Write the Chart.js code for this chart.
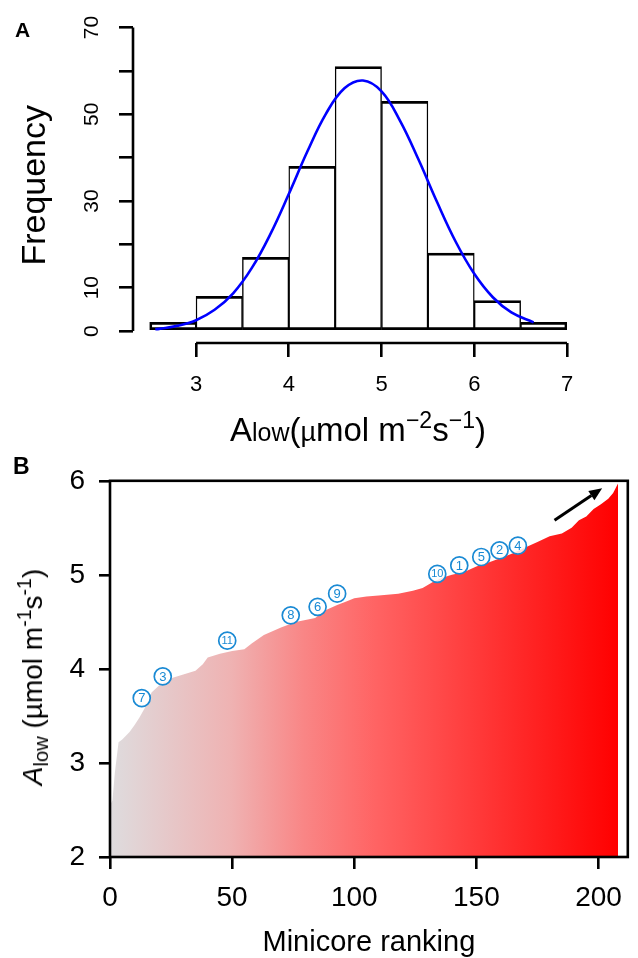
<!DOCTYPE html>
<html>
<head>
<meta charset="utf-8">
<script src="https://cdn.jsdelivr.net/npm/chart.js@4/dist/chart.umd.min.js"></script>
<style>
  html, body { margin: 0; padding: 0; background: #fff; }
  body { width: 638px; height: 958px; position: relative; overflow: hidden; font-family: "Liberation Sans", Arial, sans-serif; }
  canvas { position: absolute; left: 0; }
  #chartA { top: 0; }
  #chartB { top: 450px; }
  .panel { position: absolute; font-weight: bold; line-height: 1; }
  .title { position: absolute; white-space: nowrap; line-height: 1; color: #000; }
  .sup { position: relative; top: -0.55em; font-size: 0.7em; }
</style>
</head>
<body>
<canvas id="chartA" width="638" height="450"></canvas>
<canvas id="chartB" width="638" height="508"></canvas>

<div class="panel" style="left:15px; top:19px; font-size:21px;">A</div>
<div class="panel" style="left:13px; top:455px; font-size:23px;">B</div>

<div class="title" style="left:158px; width:400px; top:413px; text-align:center; font-size:33px;">A<span style="font-size:25px">low</span>(<span style="font-size:27px">µ</span>mol m<span class="sup">−2</span>s<span class="sup">−1</span>)</div>
<div class="title" style="left:33px; top:677px; font-size:28px; transform:translate(-50%,-50%) rotate(-90deg);"><i>A</i><span style="position:relative; top:0.3em; font-size:0.72em">low</span> (µmol m<span class="sup">-1</span>s<span class="sup">-1</span>)</div>

<script>
// --- DATA: panel A (histogram of Alow) ---
const binMid = [2.75, 3.25, 3.75, 4.25, 4.75, 5.25, 5.75, 6.25, 6.75];
const binCounts = [2, 8, 17, 38, 61, 53, 18, 7, 2];
// fitted curve
const curveX = [2.56, 2.6, 2.8, 3.0, 3.2, 3.4, 3.6, 3.8, 4.0, 4.2, 4.4, 4.6, 4.8, 5.0, 5.2, 5.4, 5.6, 5.8, 6.0, 6.2, 6.4, 6.64];
const curveY = [0.4, 0.5, 1.2, 2.5, 4.9, 8.7, 14.5, 22.3, 31.6, 41.4, 50.1, 56.0, 57.8, 55.3, 48.5, 39.5, 29.7, 20.6, 13.2, 7.8, 4.3, 2.0];
const xTicksA = [3, 4, 5, 6, 7];
const yTicksA = [0, 10, 20, 30, 40, 50, 60, 70];
const yTickLabelsA = ['0', '10', '', '30', '', '50', '', '70'];

// --- DATA: panel B (ranked Alow) ---
const rank = [0, 1, 2, 3.5, 5, 8, 10, 12, 15, 17, 20, 25, 30, 35, 38, 40, 45, 50, 55, 58, 63, 70, 76, 84, 88, 93, 97, 100, 105, 110, 118, 124, 128, 132, 136, 140, 145, 150, 155, 160, 165, 170, 175, 180, 185, 189, 192, 195, 198, 201, 204, 206, 208];
const alow = [2.55, 2.6, 2.9, 3.22, 3.25, 3.33, 3.4, 3.48, 3.62, 3.75, 3.82, 3.9, 3.94, 3.98, 4.05, 4.12, 4.16, 4.19, 4.21, 4.27, 4.36, 4.44, 4.5, 4.54, 4.62, 4.68, 4.72, 4.75, 4.77, 4.78, 4.8, 4.83, 4.86, 4.92, 4.97, 5.0, 5.03, 5.09, 5.13, 5.18, 5.23, 5.29, 5.35, 5.41, 5.44, 5.5, 5.58, 5.62, 5.7, 5.75, 5.81, 5.87, 5.97];
const labelText = ['7', '3', '11', '8', '6', '9', '10', '1', '5', '2', '4'];
const labelRank = [13, 21.6, 48, 74, 85, 93, 134, 143, 152, 159.5, 167];
const labelValue = [3.69, 3.92, 4.3, 4.57, 4.66, 4.8, 5.01, 5.1, 5.19, 5.26, 5.31];
const arrowFrom = [182, 5.58];
const arrowTo = [201.5, 5.92];
const xTicksB = [0, 50, 100, 150, 200];
const yTicksB = [2, 3, 4, 5, 6];

const FONT = '"Liberation Sans", Arial, sans-serif';
const BLUE_LABEL = '#1a8ad4';
Chart.defaults.font.family = FONT;
Chart.defaults.color = '#000';

// R-style axis lines, only across the labelled range
const axisLinesA = {
    id: 'axisLinesA',
    afterDraw(chart) {
        const { ctx, chartArea, scales } = chart;
        ctx.save();
        ctx.strokeStyle = '#000';
        ctx.lineWidth = 2.6;
        ctx.beginPath();
        ctx.moveTo(chartArea.left, scales.y.getPixelForValue(yTicksA[0]));
        ctx.lineTo(chartArea.left, scales.y.getPixelForValue(yTicksA[yTicksA.length - 1]));
        ctx.moveTo(scales.x.getPixelForValue(xTicksA[0]), chartArea.bottom);
        ctx.lineTo(scales.x.getPixelForValue(xTicksA[xTicksA.length - 1]), chartArea.bottom);
        ctx.stroke();
        ctx.restore();
    }
};

new Chart(document.getElementById('chartA'), {
    type: 'bar',
    data: {
        datasets: [
            {
                type: 'line',
                data: curveX.map((x, i) => ({ x: x, y: curveY[i] })),
                borderColor: '#0000ff',
                borderWidth: 2.6,
                pointRadius: 0,
                tension: 0.4,
                fill: false,
                order: 0
            },
            {
                type: 'bar',
                data: binMid.map((x, i) => ({ x: x, y: binCounts[i] })),
                backgroundColor: '#fff',
                borderColor: '#000',
                borderSkipped: false,
                borderWidth: c => ({
                    top: 2.7,
                    bottom: 2.7,
                    left: c.dataIndex === 0 ? 2.7 : 1.4,
                    right: c.dataIndex === binCounts.length - 1 ? 2.7 : 1.4
                }),
                barPercentage: 1,
                categoryPercentage: 1,
                order: 1
            }
        ]
    },
    options: {
        responsive: false,
        animation: false,
        devicePixelRatio: 1,
        layout: { padding: { top: 27, right: 71, left: 0, bottom: 0 } },
        plugins: { legend: { display: false }, tooltip: { enabled: false } },
        scales: {
            x: {
                type: 'linear',
                min: 2.32,
                max: 7,
                offset: false,
                afterFit: s => { s.height = 107; },
                afterBuildTicks: s => { s.ticks = xTicksA.map(v => ({ value: v })); },
                border: { display: false },
                grid: { offset: false, drawOnChartArea: false, color: '#000', lineWidth: 2.6, tickLength: 14 },
                ticks: { font: { size: 22 }, padding: 15, autoSkip: false, maxRotation: 0 }
            },
            y: {
                min: -2.76,
                max: 70,
                afterFit: s => { s.width = 133; },
                afterBuildTicks: s => { s.ticks = yTicksA.map(v => ({ value: v })); },
                border: { display: false },
                grid: { drawOnChartArea: false, color: '#000', lineWidth: 2.6, tickLength: 14 },
                ticks: {
                    font: { size: 21 },
                    autoSkip: false,
                    minRotation: 90,
                    maxRotation: 90,
                    crossAlign: 'center',
                    padding: 15,
                    callback: (v, i) => yTickLabelsA[i]
                },
                title: { display: true, text: 'Frequency', font: { size: 34 }, padding: { top: 15, bottom: 0 } }
            }
        }
    },
    plugins: [axisLinesA]
});

// --- Panel B plugins ---
const frameB = {
    id: 'frameB',
    afterDraw(chart) {
        const { ctx, chartArea } = chart;
        ctx.save();
        ctx.strokeStyle = '#000';
        ctx.lineWidth = 2.6;
        ctx.strokeRect(chartArea.left, chartArea.top, chartArea.right - chartArea.left, chartArea.bottom - chartArea.top);
        ctx.restore();
    }
};

const circleNumbers = {
    id: 'circleNumbers',
    afterDatasetsDraw(chart) {
        const meta = chart.getDatasetMeta(0);
        const ctx = chart.ctx;
        ctx.save();
        ctx.fillStyle = BLUE_LABEL;
        ctx.textAlign = 'center';
        ctx.textBaseline = 'middle';
        meta.data.forEach((pt, i) => {
            const t = labelText[i];
            ctx.font = (t.length > 1 ? '11px ' : '13px ') + FONT;
            ctx.fillText(t, pt.x, pt.y + 0.5);
        });
        ctx.restore();
    }
};

const arrowB = {
    id: 'arrowB',
    afterDatasetsDraw(chart) {
        const { ctx, scales } = chart;
        const x1 = scales.x.getPixelForValue(arrowFrom[0]);
        const y1 = scales.y.getPixelForValue(arrowFrom[1]);
        const x2 = scales.x.getPixelForValue(arrowTo[0]);
        const y2 = scales.y.getPixelForValue(arrowTo[1]);
        const a = Math.atan2(y2 - y1, x2 - x1);
        const head = 13, half = 5.5;
        const bx = x2 - head * Math.cos(a), by = y2 - head * Math.sin(a);
        ctx.save();
        ctx.strokeStyle = '#000';
        ctx.fillStyle = '#000';
        ctx.lineWidth = 3;
        ctx.beginPath();
        ctx.moveTo(x1, y1);
        ctx.lineTo(bx, by);
        ctx.stroke();
        ctx.beginPath();
        ctx.moveTo(x2, y2);
        ctx.lineTo(bx + half * Math.sin(a), by - half * Math.cos(a));
        ctx.lineTo(bx - half * Math.sin(a), by + half * Math.cos(a));
        ctx.closePath();
        ctx.fill();
        ctx.restore();
    }
};

function areaGradient(c) {
    const chart = c.chart;
    const { ctx, chartArea, scales } = chart;
    if (!chartArea || !scales.x) return '#f08080';
    const g = ctx.createLinearGradient(scales.x.getPixelForValue(rank[0]), 0, scales.x.getPixelForValue(rank[rank.length - 1]), 0);
    g.addColorStop(0, '#dedcde');
    g.addColorStop(0.24, '#efb2b2');
    g.addColorStop(0.38, '#f98686');
    g.addColorStop(0.52, '#ff6464');
    g.addColorStop(0.74, '#ff3636');
    g.addColorStop(1, '#ff0000');
    return g;
}

new Chart(document.getElementById('chartB'), {
    type: 'line',
    data: {
        datasets: [
            {
                type: 'scatter',
                data: labelRank.map((x, i) => ({ x: x, y: labelValue[i] })),
                showLine: false,
                pointRadius: 8.5,
                pointBorderWidth: 1.7,
                pointBorderColor: BLUE_LABEL,
                pointBackgroundColor: 'rgba(255,255,255,0.85)',
                order: 0
            },
            {
                data: rank.map((x, i) => ({ x: x, y: alow[i] })),
                fill: 'start',
                backgroundColor: areaGradient,
                borderWidth: 0,
                pointRadius: 0,
                tension: 0,
                order: 1
            }
        ]
    },
    options: {
        responsive: false,
        animation: false,
        devicePixelRatio: 1,
        layout: { padding: { top: 30, right: 4, left: 0, bottom: 0 } },
        plugins: { legend: { display: false }, tooltip: { enabled: false } },
        scales: {
            x: {
                type: 'linear',
                min: 0,
                max: 212,
                afterFit: s => { s.height = 101; },
                afterBuildTicks: s => { s.ticks = xTicksB.map(v => ({ value: v })); },
                border: { display: false },
                grid: { drawOnChartArea: false, color: '#000', lineWidth: 2.6, tickLength: 12 },
                ticks: { font: { size: 28 }, padding: 12, autoSkip: false, maxRotation: 0 },
                title: { display: true, text: 'Minicore ranking', font: { size: 29 }, padding: { top: 0, bottom: -2 } }
            },
            y: {
                min: 2,
                max: 6,
                afterFit: s => { s.width = 110; },
                afterBuildTicks: s => { s.ticks = yTicksB.map(v => ({ value: v })); },
                border: { display: false },
                grid: { drawOnChartArea: false, color: '#000', lineWidth: 2.6, tickLength: 11 },
                ticks: { font: { size: 28 }, padding: 14, autoSkip: false }
            }
        }
    },
    plugins: [frameB, arrowB, circleNumbers]
});
</script>
</body>
</html>
